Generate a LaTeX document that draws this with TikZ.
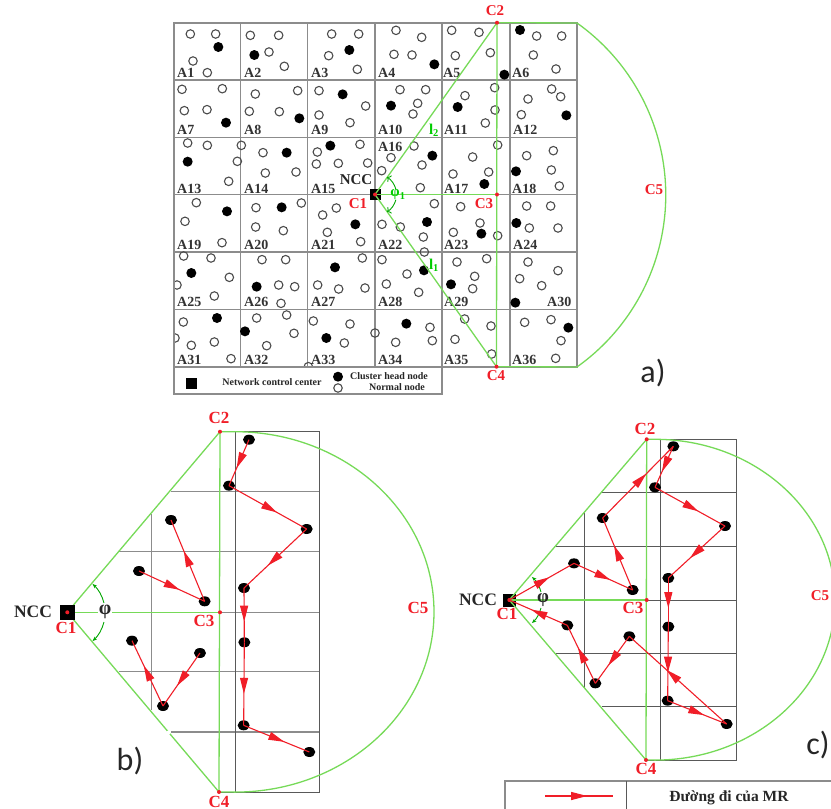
\documentclass[tikz,border=0pt]{standalone}
\usepackage{fontspec}
\setmainfont{Liberation Serif}
\newfontfamily\labfont{Carlito}
\usetikzlibrary{arrows.meta,decorations.markings,shapes.geometric}
\definecolor{gr}{RGB}{118,218,88}
\definecolor{rd}{RGB}{240,30,40}
\definecolor{gridc}{RGB}{140,140,140}
\tikzset{
  hollow/.style={circle,draw=black!70,fill=none,line width=1.1pt,inner sep=0pt,minimum size=8.5pt},
  filled/.style={circle,fill=black,inner sep=0pt,minimum size=10pt},
  fdot/.style={ellipse,fill=black,inner sep=0pt,minimum width=12pt,minimum height=10pt},
  rdot/.style={circle,fill=rd,inner sep=0pt,minimum size=4pt},
  gridl/.style={draw=gridc,line width=1.1pt},
  gridd/.style={draw=black!65,line width=1pt},
  grn/.style={draw=gr,line width=1.3pt},
  gtxt/.style={text=green!80!black,inner sep=0pt},
  alab/.style={font=\bfseries\fontsize{14}{14}\selectfont,text=black!80,anchor=base west,inner sep=0pt},
  rlab/.style={font=\bfseries\fontsize{15}{15}\selectfont,text=rd,inner sep=0pt},
  rlabb/.style={font=\bfseries\fontsize{17}{17}\selectfont,text=rd,inner sep=0pt},
  blab/.style={font=\bfseries\fontsize{15}{15}\selectfont,text=black!85,inner sep=0pt},
  blabb/.style={font=\bfseries\fontsize{17.5}{17.5}\selectfont,text=black!85,inner sep=0pt},
  slab/.style={font=\bfseries\fontsize{10}{10}\selectfont,text=black!85,inner sep=0pt},
  panel/.style={font=\labfont\fontsize{32}{32}\selectfont,text=black!85,inner sep=0pt},
  mr/.style={draw=rd,line width=1.1pt,postaction={decorate},decoration={markings,mark=at position 0.62 with {\arrow[rd]{Triangle[length=16pt,width=8pt]}}}},
  sq/.style={rectangle,fill=black,inner sep=0pt},
  gtip/.style={-{Stealth[length=4.5pt,width=3.5pt]},draw=green!65!black,line width=0.9pt}
}
\begin{document}
\begin{tikzpicture}[x=1pt,y=-1pt]
\useasboundingbox (0,0) rectangle (831,809);
% ---------- panel a grid
\foreach \gx in {240.7,307.7,375,442,510}{\draw[gridl] (\gx,23) -- (\gx,367);}
\foreach \gy in {80,137.3,194.5,252,309.3}{\draw[gridl] (174,\gy) -- (577,\gy);}
% dots
\begin{scope}[shift={(165,0)},x=1/3*1pt,y=-1/3*1pt]
\foreach \px/\py [count=\i] in {76/102,152/102,84/183,127/218,256/106,341/106,312/156,358/199,500/102,581/102,491/167,577/208,693/91,770/112,687/163,741/165,860/91,942/97,871/167,976/158,51/268,172/266,58/332,126/329,271/282,398/272,253/334,343/335,462/272,602/318,462/345,555/368,705/269,782/269,758/310,744/342,900/287,989/263,990/330,961/369,68/429,127/436,229/436,217/484,191/544,294/458,393/516,301/519,457/456,585/433,454/492,520/490,608/489,747/438,678/473,771/495,650/512,766/563,923/471,998/435,864/522,971/516}
  \node[hollow] (h1\i) at (\px,\py) {};
\foreach \px/\py [count=\i] in {160/141,268/165,553/150,808/193,1018/224,183/368,403/355,533/283,678/317,878/321,68/485,365/458,496/437,802/467,958/552}
  \node[filled] (f1\i) at (\px,\py) {};
\end{scope}
\begin{scope}[shift={(490,0)},x=1/3*1pt,y=-1/3*1pt]
\foreach \px/\py [count=\i] in {140/108,215/108,130/165,198/207,185/267,212/290,114/297,94/344,190/452,110/467,184/510,208/558}
  \node[hollow] (h2\i) at (\px,\py) {};
\foreach \px/\py [count=\i] in {90/90,229/346,78/514}
  \node[filled] (f2\i) at (\px,\py) {};
\end{scope}
\begin{scope}[shift={(165,190)},x=1/3*1pt,y=-1/3*1pt]
\foreach \px/\py [count=\i] in {94/38,60/94,171/158,273/53,409/39,272/111,355/122,514/54,473/75,487/127,587/155,808/41,651/103,706/111,775/141,887/50,945/99,865/127,998/137,56/198,138/204,193/262,36/285,148/318,291/209,362/209,341/285,389/290,348/340,592/204,458/285,521/297,600/294,651/209,778/186,726/252,664/282,761/307,876/216,965/206,929/259,923/296,55/396,30/444,79/466,148/456,198/506,275/384,365/375,387/430,305/467,445/393,555/402,538/459,630/429,795/412,802/452,692/457,899/387,978/408,870/448,980/492,430/530}
  \node[hollow] (h3\i) at (\px,\py) {};
\foreach \px/\py [count=\i] in {186/64,350/52,571/103,786/96,949/131,79/249,275/290,510/232,777/241,858/283,156/384,240/424,484/444,724/401}
  \node[filled] (f3\i) at (\px,\py) {};
\end{scope}
\begin{scope}[shift={(490,190)},x=1/3*1pt,y=-1/3*1pt]
\foreach \px/\py [count=\i] in {110/48,182/48,118/114,204/114,114/216,204/242,89/266,155/287,104/397,183/389,213/452,197/505}
  \node[hollow] (h4\i) at (\px,\py) {};
\foreach \px/\py [count=\i] in {79/99,76/338,235/413}
  \node[filled] (f4\i) at (\px,\py) {};
\end{scope}
% dots are cut off by the frame and the legend box
\fill[white] (160,15) rectangle (174,400);
\fill[white] (174,367) rectangle (442,394);
\draw[gridl] (174,23) rectangle (577,367);
\draw[gridl] (174,367) rectangle (442,394);
% cell labels
\foreach \lx/\ly/\t in {177/77/A1,244/77/A2,311/77/A3,378/77/A4,443/77/A5,512/77/A6,
 177/134/A7,244/134/A8,311/134/A9,378/134/A10,444/134/A11,513/134/A12,
 177/193/A13,244/193/A14,311/193/A15,378/151/A16,444/193/A17,512/193/A18,
 177/249/A19,244/249/A20,311/249/A21,378/249/A22,444/249/A23,513/249/A24,
 177/306/A25,244/306/A26,311/306/A27,378/306/A28,444/306/A29,547/306/A30,
 177/364/A31,244/364/A32,311/364/A33,378/364/A34,444/364/A35,512/364/A36}
  \node[alab] (lab\t) at (\lx,\ly) {\t};
% legend a
\node[sq,minimum size=11pt] (legsq) at (191.7,383) {};
\node[slab] (legncc) at (272,382) {Network control center};
\node[filled] (legf) at (338,376.7) {};
\node[hollow] (legh) at (338,388) {};
\node[slab] (legch) at (389,376) {Cluster head node};
\node[slab] (legnn) at (397,387) {Normal node};
% sector a
\node[sq,minimum size=11pt] (ncca) at (375,194.5) {};
\coordinate (a2r) at (577,23);
\coordinate (a4r) at (577,367);
\draw[grn] (375,194.5) -- (497,22.7);
\draw[grn] (375,194.5) -- (497,194.5);
\draw[grn] (375,194.5) -- (496.5,366.7);
\draw[grn] (497,22.7) -- (496.5,366.7);
\draw[grn] (497,22.7) -- (a2r) arc[start angle=-54.6,end angle=54.6,radius=211] -- (496.5,366.7);
\draw[gtip,<-] (387,177) arc[start angle=-57,end angle=-15,radius=21];
\draw[gtip,<-] (387,212) arc[start angle=57,end angle=15,radius=21];
\node[rdot] (a1) at (375,194.5) {};
\node[rdot] (a2) at (497,22.7) {};
\node[rdot] (a3) at (497,194.5) {};
\node[rdot] (a4) at (496.5,366.7) {};
\node[rlab] (a1l) at (358,204) {C1};
\node[rlab] (a2l) at (495,11) {C2};
\node[rlab] (a3l) at (484,204) {C3};
\node[rlab] (a4l) at (496,376) {C4};
\node[rlab] (a5l) at (654,190) {C5};
\node[blab] (anc) at (356,180) {NCC};
\node[gtxt,font=\bfseries\fontsize{15}{15}\selectfont] (aph) at (398,195) {φ\textsubscript{1}};
\node[gtxt,font=\bfseries\fontsize{15}{15}\selectfont] (al2) at (434,130) {l\textsubscript{2}};
\node[gtxt,font=\bfseries\fontsize{15}{15}\selectfont] (al1) at (434,265) {l\textsubscript{1}};
\node[panel] (pa) at (653,373) {a)};
% ---------- panel b
\foreach \gy/\gs in {491.7/171,551.7/119,612.3/67,671.7/119,732/171}{\draw[gridl] (\gs,\gy) -- (319,\gy);}
\draw[gridl] (151.7,514) -- (151.7,710);
\draw[gridd] (235.5,431.7) -- (235.5,792);
\draw[gridd] (220,431.7) -- (319,431.7) -- (319,792) -- (219,792);
\coordinate (b1) at (67.3,612.3);
\coordinate (b2) at (220,431.7);
\coordinate (b3) at (220,612.3);
\coordinate (b4) at (219,792);
\draw[grn] (b1) -- (b2);
\draw[grn] (b1) -- (b3);
\draw[grn] (b1) -- (b4);
\draw[grn] (b2) -- (b4);
\draw[grn] (b2) -- (235,431.7) arc[start angle=-90,end angle=90,x radius=199,y radius=180.2] -- (b4);
\fill[white] (168.5,732.5) circle (2pt);
\draw[gtip] (104,603) arc[start angle=-14,end angle=-48,radius=38];
\draw[gtip] (104,622) arc[start angle=14,end angle=48,radius=38];
\node[sq,minimum size=15pt] (nccb) at (67.5,612.3) {};
\node[rdot] at (b1) {};
\node[rdot] at (b2) {};
\node[rdot] at (b3) {};
\node[rdot] at (b4) {};
\node[rlabb] (b1l) at (66,628) {C1};
\node[rlabb] (b2l) at (219,418) {C2};
\node[rlabb] (b3l) at (204,621) {C3};
\node[rlabb] (b4l) at (219,801.5) {C4};
\node[rlabb] (b5l) at (418,608) {C5};
\node[blabb] (bnc) at (33,612) {NCC};
\node[blab,fill=white,inner sep=1pt,font=\bfseries\fontsize{20}{20}\selectfont] (bph) at (105,612) {φ};
\node[panel] (pb) at (130,761) {b)};
\begin{scope}[shift={(0,420)},x=1/3*1pt,y=-1/3*1pt]
\foreach \nm/\px/\py in {p1/747/59,p2/687/197,p3/920/327,p4/732/504,p5/733/667,p6/731/916,p7/928/996,p8/513/300,p9/417/453,p10/614/544,p11/396/662,p12/600/699,p13/489/858}
  \node[fdot] (b\nm) at (\px,\py) {};
\end{scope}
\foreach \u/\v in {p1/p2,p2/p3,p3/p4,p4/p5,p5/p6,p6/p7,p9/p10,p10/p8,p12/p13,p13/p11}
  \draw[mr] (b\u.center) -- (b\v.center);
% ---------- panel c
\foreach \gy/\gs in {492.7/601.7,546.3/555.7,600/509,653/555.7,706.7/601.7}{\draw[gridd] (\gs,\gy) -- (736,\gy);}
\draw[gridd] (584.7,511.7) -- (584.7,687.7);
\draw[gridd] (660.3,439.3) -- (660.3,760);
\draw[gridd] (646.7,439.3) -- (736,439.3) -- (736,760) -- (646,760);
\coordinate (c2) at (646.7,439.3);
\coordinate (c3) at (646.7,600);
\coordinate (c4) at (646,760);
\node[sq,minimum size=13pt] (nccc) at (509.5,600) {};
\coordinate (c1) at (509.3,600);
\draw[grn] (c1) -- (c2);
\draw[grn] (c1) -- (c3);
\draw[grn] (c1) -- (c4);
\draw[grn] (c2) -- (c4);
\draw[grn] (c2) -- (655,439.3) arc[start angle=-90,end angle=90,x radius=180,y radius=160.4] -- (c4);
\draw[gtip] (541,592) arc[start angle=-14,end angle=-48,radius=30];
\draw[gtip] (541,608) arc[start angle=14,end angle=48,radius=30];
\begin{scope}[shift={(450,420)},x=1/3*1pt,y=-1/3*1pt]
\foreach \nm/\px/\py in {p1/372/430,p2/548/510,p3/458/294,p4/670/79,p5/615/202,p6/825/318,p7/655/474,p8/655/620,p9/653/842,p10/830/912,p11/538/649,p12/436/790,p13/352/616}
  \node[fdot] (c\nm) at (\px,\py) {};
\end{scope}
\foreach \u/\v in {p1/p2,p2/p3,p3/p4,p4/p5,p5/p6,p6/p7,p7/p8,p8/p9,p9/p10,p10/p11,p11/p12,p12/p13}
  \draw[mr] (c\u.center) -- (c\v.center);
\draw[mr] (c1) -- (cp1.center);
\draw[mr] (cp13.center) -- (c1);
\node[rdot] at (c1) {};
\node[rdot] at (c2) {};
\node[rdot] at (c3) {};
\node[rdot] at (c4) {};
\node[rlabb] (c1l) at (507,614) {C1};
\node[rlabb] (c2l) at (645,429) {C2};
\node[rlabb] (c3l) at (633,608) {C3};
\node[rlabb] (c4l) at (646,769) {C4};
\node[rlabb,font=\bfseries\fontsize{15}{15}\selectfont] (c5l) at (820,596) {C5};
\node[blabb] (cnc) at (478,600) {NCC};
\node[blab,font=\bfseries\fontsize{19}{19}\selectfont] (cph) at (543,600) {φ};
\node[panel] (pc) at (818,745) {c)};
% ---------- bottom table
\draw[gridl] (505,809) -- (505,781) -- (831,781);
\draw[gridd] (626,781) -- (626,809);
\coordinate (ta) at (545,796);
\coordinate (tb) at (613,796);
\draw[mr] (ta) -- (tb);
\node[blab,font=\bfseries\fontsize{15.5}{15.5}\selectfont] (tt) at (729,798) {Đường đi của MR};
\end{tikzpicture}
\end{document}
